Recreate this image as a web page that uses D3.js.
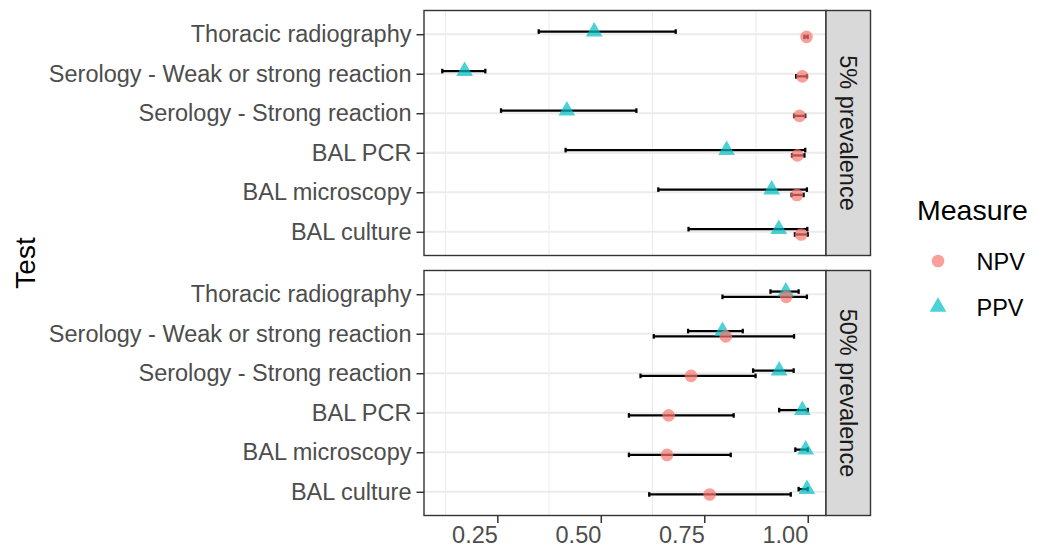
<!DOCTYPE html>
<html>
<head>
<meta charset="utf-8">
<script src="https://cdn.jsdelivr.net/npm/d3@7"></script>
<style>
  body { margin: 0; background: #fff; }
  svg text { font-family: "Liberation Sans", Arial, sans-serif; }
</style>
</head>
<body>
<svg id="chart" width="1047" height="548"></svg>
<script>
const tests    = ['Thoracic radiography', 'Serology - Weak or strong reaction', 'Serology - Strong reaction', 'BAL PCR', 'BAL microscopy', 'BAL culture']
const panels   = ['5% prevalence', '50% prevalence']
const measures = ['NPV', 'PPV']
const xTicks   = [0.25, 0.5, 0.75, 1.0]
const xMinor   = [0.125, 0.375, 0.625, 0.875]

// 5% prevalence
const npv5     = [0.997, 0.987, 0.980, 0.975, 0.974, 0.984]
const npv5Lo   = [0.992, 0.972, 0.967, 0.962, 0.961, 0.969]
const npv5Hi   = [1.000, 0.998, 0.994, 0.992, 0.990, 1.000]
const ppv5     = [0.484, 0.171, 0.418, 0.804, 0.913, 0.930]
const ppv5Lo   = [0.350, 0.117, 0.259, 0.415, 0.639, 0.712]
const ppv5Hi   = [0.681, 0.221, 0.586, 0.994, 0.998, 0.999]

// 50% prevalence
const npv50    = [0.948, 0.802, 0.718, 0.664, 0.660, 0.763]
const npv50Lo  = [0.794, 0.628, 0.596, 0.568, 0.568, 0.617]
const npv50Hi  = [0.998, 0.967, 0.874, 0.821, 0.814, 0.959]
const ppv50    = [0.947, 0.794, 0.931, 0.987, 0.995, 0.998]
const ppv50Lo  = [0.910, 0.711, 0.868, 0.931, 0.970, 0.978]
const ppv50Hi  = [0.978, 0.843, 0.966, 1.000, 1.000, 1.000]

const series = [
  { panel: panels[0], measure: 'PPV', est: ppv5,  lo: ppv5Lo,  hi: ppv5Hi },
  { panel: panels[0], measure: 'NPV', est: npv5,  lo: npv5Lo,  hi: npv5Hi },
  { panel: panels[1], measure: 'PPV', est: ppv50, lo: ppv50Lo, hi: ppv50Hi },
  { panel: panels[1], measure: 'NPV', est: npv50, lo: npv50Lo, hi: npv50Hi }
]

const
  svg       = d3.select('#chart'),
  left      = 424,
  right     = 826,
  stripW    = 44.5,
  panelH    = 245,
  panelTops = [10.5, 270.5],
  colors    = { NPV: '#F8766D', PPV: '#00BFC4' },
  shapes    = { NPV: d3.symbolCircle, PPV: d3.symbolTriangle },
  symSize   = { NPV: 125, PPV: 121 },
  textSize  = 23.5

// x domain from data, expanded 5% like ggplot
const allVals = series.flatMap(s => s.lo.concat(s.hi, s.est))
const ext = d3.extent(allVals)
const pad = (ext[1] - ext[0]) * 0.05
const x = d3.scaleLinear().domain([ext[0] - pad, ext[1] + pad]).range([left, right])

panels.forEach((p, pi) =>
{
  const top = panelTops[pi]
  const y = d3.scalePoint().domain(tests).range([top, top + panelH]).padding(0.6)
  const dodge = y.step() * 0.067
  const g = svg.append('g')

  // grid
  g.selectAll('.minor').data(xMinor).join('line')
    .attr('x1', d => x(d)).attr('x2', d => x(d))
    .attr('y1', top).attr('y2', top + panelH)
    .attr('stroke', '#EBEBEB').attr('stroke-width', 1)
  g.selectAll('.major').data(tests).join('line')
    .attr('x1', left).attr('x2', right)
    .attr('y1', d => y(d)).attr('y2', d => y(d))
    .attr('stroke', '#EBEBEB').attr('stroke-width', 2)

  // error bars
  series.filter(s => s.panel === p).forEach(s =>
  {
    const off = s.measure === 'PPV' ? -dodge : dodge
    tests.forEach((t, i) =>
    {
      const yy = y(t) + off
      g.append('line')
        .attr('x1', x(s.lo[i])).attr('x2', x(s.hi[i]))
        .attr('y1', yy).attr('y2', yy)
        .attr('stroke', '#000').attr('stroke-width', 2.3)
      ;[s.lo[i], s.hi[i]].forEach(v =>
        g.append('line')
          .attr('x1', x(v)).attr('x2', x(v))
          .attr('y1', yy - 2.3).attr('y2', yy + 2.3)
          .attr('stroke', '#000').attr('stroke-width', 2.3))
    })
  })

  // points
  series.filter(s => s.panel === p).forEach(s =>
  {
    const off = s.measure === 'PPV' ? -dodge : dodge
    const sym = d3.symbol().type(shapes[s.measure]).size(symSize[s.measure])
    g.selectAll(null).data(tests).join('path')
      .attr('d', sym)
      .attr('transform', (t, i) => `translate(${x(s.est[i])},${y(t) + off})`)
      .attr('fill', colors[s.measure])
      .attr('fill-opacity', 0.7)
  })

  // panel border
  g.append('rect')
    .attr('x', left).attr('y', top).attr('width', right - left).attr('height', panelH)
    .attr('fill', 'none').attr('stroke', '#333333').attr('stroke-width', 1.4)

  // strip
  g.append('rect')
    .attr('x', right).attr('y', top).attr('width', stripW).attr('height', panelH)
    .attr('fill', '#D9D9D9').attr('stroke', '#333333').attr('stroke-width', 1.4)
  g.append('text')
    .attr('transform', `translate(${right + stripW / 2},${top + panelH / 2}) rotate(90)`)
    .attr('text-anchor', 'middle').attr('dominant-baseline', 'central')
    .attr('font-size', textSize).attr('fill', '#1A1A1A')
    .text(p)

  // y axis
  const yAxis = d3.axisLeft(y).tickSize(7.5).tickPadding(5)
  const ya = g.append('g').attr('transform', `translate(${left},0)`).call(yAxis)
  ya.select('.domain').remove()
  ya.selectAll('line').attr('stroke', '#333333').attr('stroke-width', 1.5)
  ya.selectAll('text').attr('font-size', textSize).attr('fill', '#4D4D4D')
    .attr('font-family', '"Liberation Sans", Arial, sans-serif')
})

// x axis
const xAxis = d3.axisBottom(x).tickValues(xTicks).tickFormat(d3.format('.2f')).tickSize(7.5).tickPadding(3)
const xa = svg.append('g').attr('transform', `translate(0,${panelTops[1] + panelH})`).call(xAxis)
xa.select('.domain').remove()
xa.selectAll('line').attr('stroke', '#333333').attr('stroke-width', 1.5)
xa.selectAll('text').attr('font-size', textSize).attr('fill', '#4D4D4D')
  .attr('text-anchor', 'end')
  .attr('font-family', '"Liberation Sans", Arial, sans-serif')

// axis title
svg.append('text')
  .attr('transform', `translate(35,263) rotate(-90)`)
  .attr('text-anchor', 'middle')
  .attr('font-size', 28).attr('fill', '#000')
  .text('Test')

// legend
svg.append('text')
  .attr('x', 917).attr('y', 220)
  .attr('font-size', 28.5).attr('fill', '#000')
  .text('Measure')

measures.forEach((m, i) =>
{
  const cy = 261 + i * 46
  svg.append('path')
    .attr('d', d3.symbol().type(shapes[m]).size(symSize[m]))
    .attr('transform', `translate(938,${cy})`)
    .attr('fill', colors[m]).attr('fill-opacity', 0.7)
  svg.append('text')
    .attr('x', 976.5).attr('y', cy + 8.5)
    .attr('font-size', textSize).attr('fill', '#000')
    .text(m)
})
</script>
</body>
</html>
